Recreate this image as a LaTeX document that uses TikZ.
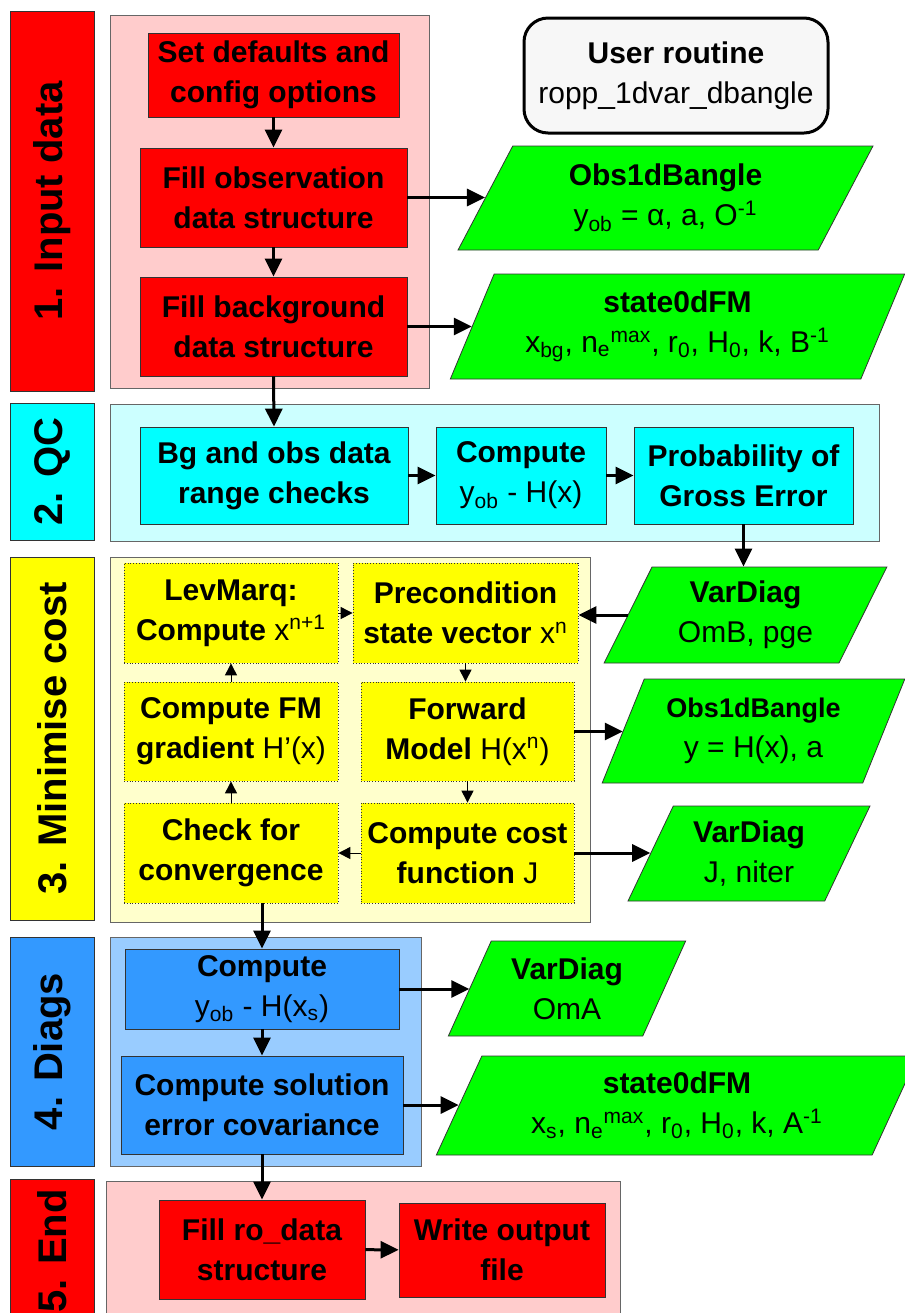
\documentclass[tikz,border=0pt]{standalone}
\usepackage{fontspec}
\setmainfont{Liberation Sans}
\usetikzlibrary{shapes.geometric,arrows.meta}

\definecolor{stepred}{HTML}{FF0000}
\definecolor{bgred}{HTML}{FFCCCC}
\definecolor{stepcyan}{HTML}{00FFFF}
\definecolor{bgcyan}{HTML}{CCFFFF}
\definecolor{stepyellow}{HTML}{FFFF00}
\definecolor{bgyellow}{HTML}{FFFFCC}
\definecolor{stepblue}{HTML}{3399FF}
\definecolor{bgblue}{HTML}{99CCFF}
\definecolor{datagreen}{HTML}{00FF00}

\tikzset{
  lane/.style={draw=black!80, rotate=90, inner sep=0pt, minimum height=42pt,
    font=\bfseries\fontsize{20}{24}\selectfont},
  procbox/.style={draw=black!80, inner sep=0pt, align=center,
    font=\bfseries\fontsize{15}{20}\selectfont},
  loopbox/.style={procbox, fill=stepyellow, densely dotted},
  databox/.style={trapezium, trapezium left angle=63, trapezium right angle=117,
    trapezium stretches=true, draw=black!80, fill=datagreen, inner sep=0pt,
    align=center, font=\fontsize{15}{20}\selectfont},
  flow/.style={-{Triangle[length=9pt,width=8.5pt]}, line width=1.5pt},
  loopflow/.style={-{Triangle[length=6pt,width=6pt]}, line width=0.5pt},
}

\begin{document}
\begin{tikzpicture}[x=0.5pt,y=-0.5pt]
  \useasboundingbox (0,0) rectangle (905,1313);

  \draw [draw=black!60, fill=bgred] (110,15) rectangle (429,388);
  \draw [draw=black!60, fill=bgcyan] (110,404) rectangle (879,541);
  \draw [draw=black!60, fill=bgyellow] (110,557) rectangle (590,922);
  \draw [draw=black!60, fill=bgblue] (110,937) rectangle (421,1166);
  \draw [draw=black!60, fill=bgred] (106,1181) rectangle (620,1320);

  \node (lane1) [lane, fill=stepred, minimum width=190pt] at (52,201) {1. Input data};
  \node (lane2) [lane, fill=stepcyan, minimum width=68.5pt] at (52,471.5) {2. QC};
  \node (lane3) [lane, fill=stepyellow, minimum width=181.5pt] at (52,738.5) {3. Minimise cost};
  \node (lane4) [lane, fill=stepblue, minimum width=114.5pt] at (52,1051.5) {4. Diags};
  \node (lane5) [lane, fill=stepred, minimum width=72pt] at (52,1251) {5. End};

  \node (userrtn) [draw, line width=1.5pt, rounded corners=12pt, fill=black!3,
    minimum width=152pt, minimum height=57.5pt, align=center,
    font=\fontsize{15}{20}\selectfont] at (676,75.5)
    {\textbf{User routine}\\ropp\_1dvar\_dbangle};

  \node (setdef) [procbox, fill=stepred, minimum width=125.5pt, minimum height=42pt] at (273.5,75)
    {Set defaults and\\config options};
  \node (fillobs) [procbox, fill=stepred, minimum width=133.5pt, minimum height=49.5pt] at (273.5,197.5)
    {Fill observation\\data structure};
  \node (fillbg) [procbox, fill=stepred, minimum width=133.5pt, minimum height=49.5pt] at (273.5,326.5)
    {Fill background\\data structure};

  \node (obsin) [databox, minimum width=207.5pt, minimum height=52pt] at (665.5,198)
    {\textbf{Obs1dBangle}\\y\textsubscript{ob} = α, a, O\textsuperscript{-1}};
  \node (bgin) [databox, minimum width=227.5pt, minimum height=52.5pt] at (677.5,326.5)
    {\textbf{state0dFM}\\x\textsubscript{bg}, n\textsubscript{e}\textsuperscript{max}, r\textsubscript{0}, H\textsubscript{0}, k, B\textsuperscript{-1}};

  \node (rangechk) [procbox, fill=stepcyan, minimum width=134pt, minimum height=48.5pt] at (274,475.5)
    {Bg and obs data\\range checks};
  \node (omb) [procbox, fill=stepcyan, minimum width=85pt, minimum height=48.5pt] at (521,475.5)
    {Compute\\{\mdseries y\textsubscript{ob} - H(x)}};
  \node (pge) [procbox, fill=stepcyan, minimum width=109.5pt, minimum height=48.5pt] at (743.5,475.5)
    {Probability of\\Gross Error};

  \node (levmarq) [loopbox, minimum width=107pt, minimum height=50pt] at (231,613)
    {LevMarq:\\Compute {\mdseries x\textsuperscript{n+1}}};
  \node (precond) [loopbox, minimum width=112.5pt, minimum height=50pt] at (465.5,613)
    {Precondition\\state vector {\mdseries x\textsuperscript{n}}};
  \node (fmgrad) [loopbox, minimum width=107pt, minimum height=49.5pt] at (231,731.5)
    {Compute FM\\gradient {\mdseries H’(x)}};
  \node (fwdmod) [loopbox, minimum width=106.5pt, minimum height=49.5pt] at (467.5,731.5)
    {Forward\\Model {\mdseries H(x\textsuperscript{n})}};
  \node (convchk) [loopbox, minimum width=107pt, minimum height=50pt] at (231,853)
    {Check for\\convergence};
  \node (costfn) [loopbox, minimum width=106.5pt, minimum height=50pt] at (467.5,853)
    {Compute cost\\function {\mdseries J}};

  \node (vdomb) [databox, minimum width=141.5pt, minimum height=48pt] at (745.5,615)
    {\textbf{VarDiag}\\OmB, pge};
  \node (obsfm) [databox, minimum width=151.5pt, minimum height=52pt,
    font=\fontsize{13.5}{20}\selectfont] at (753.5,731)
    {\textbf{Obs1dBangle}\\{\fontsize{15}{20}\selectfont y = H(x), a}};
  \node (vdj) [databox, minimum width=121pt, minimum height=47.5pt] at (749,853.5)
    {\textbf{VarDiag}\\J, niter};

  \node (omacmp) [procbox, fill=stepblue, minimum width=137pt, minimum height=40pt] at (262,989)
    {Compute\\{\mdseries y\textsubscript{ob} - H(x\textsubscript{s})}};
  \node (solerr) [procbox, fill=stepblue, minimum width=141pt, minimum height=49pt] at (262,1105)
    {Compute solution\\error covariance};
  \node (vdoma) [databox, minimum width=119pt, minimum height=47.5pt] at (567,988.5)
    {\textbf{VarDiag}\\OmA};
  \node (solout) [databox, minimum width=241pt, minimum height=49.5pt] at (677,1105.5)
    {\textbf{state0dFM}\\x\textsubscript{s}, n\textsubscript{e}\textsuperscript{max}, r\textsubscript{0}, H\textsubscript{0}, k, A\textsuperscript{-1}};

  \node (fillro) [procbox, fill=stepred, minimum width=103pt, minimum height=49.5pt] at (262,1249.5)
    {Fill ro\_data\\structure};
  \node (writeout) [procbox, fill=stepred, minimum width=103pt, minimum height=47pt] at (502,1250)
    {Write output\\file};

  \draw [flow] (setdef) -- (fillobs);
  \draw [flow] (fillobs) -- (fillbg);
  \draw [flow] (fillobs.east) -- (fillobs.east -| obsin.west);
  \draw [flow] (fillbg.east) -- (fillbg.east -| bgin.west);
  \draw [flow] (fillbg.south) -- (rangechk.north);
  \draw [flow] (rangechk) -- (omb);
  \draw [flow] (omb) -- (pge);
  \draw [flow] (pge.south) -- (pge.south |- vdomb.north);
  \draw [flow] (vdomb.west) -- (vdomb.west -| precond.east);
  \draw [loopflow] (levmarq) -- (precond);
  \draw [loopflow] (precond) -- (precond |- fwdmod.north);
  \draw [loopflow] (fwdmod) -- (costfn);
  \draw [loopflow] (costfn) -- (convchk);
  \draw [loopflow] (convchk) -- (fmgrad);
  \draw [loopflow] (fmgrad) -- (levmarq);
  \draw [flow] (fwdmod.east) -- (fwdmod.east -| obsfm.west);
  \draw [flow] (costfn.east) -- (costfn.east -| vdj.west);
  \draw [flow] (omacmp.north |- convchk.south) -- (omacmp.north);
  \draw [flow] (omacmp.east) -- (omacmp.east -| vdoma.west);
  \draw [flow] (omacmp) -- (solerr);
  \draw [flow] (solerr.east) -- (solerr.east -| solout.west);
  \draw [flow] (solerr) -- (fillro);
  \draw [flow] (fillro) -- (writeout);
\end{tikzpicture}
\end{document}
